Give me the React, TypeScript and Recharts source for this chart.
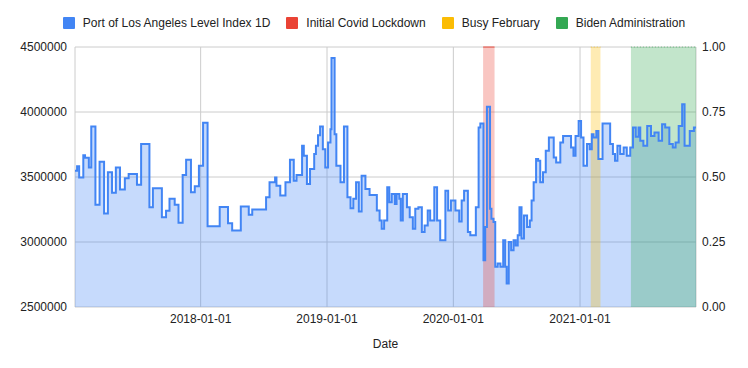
import React from 'react';
import { ComposedChart, Area, Line, XAxis, YAxis, CartesianGrid } from 'recharts';

const seriesName = 'Port of Los Angeles Level Index 1D';
const seriesColor = '#4285F4';

const portDates = [
  '2017-01-03','2017-01-09','2017-01-15','2017-01-27','2017-02-01','2017-02-12','2017-02-19','2017-03-03',
  '2017-03-15','2017-03-28','2017-04-08','2017-04-20','2017-05-01','2017-05-13','2017-05-27','2017-06-07',
  '2017-07-01','2017-07-13','2017-08-06','2017-08-16','2017-09-11','2017-09-23','2017-10-03','2017-10-18',
  '2017-10-29','2017-11-10','2017-11-20','2017-12-04','2017-12-15','2017-12-27','2018-01-08','2018-01-21',
  '2018-02-25','2018-03-21','2018-04-02','2018-04-27','2018-05-20','2018-05-30','2018-07-09','2018-07-19',
  '2018-08-04','2018-08-08','2018-08-19','2018-09-03','2018-09-16','2018-09-27','2018-10-05','2018-10-21',
  '2018-10-26','2018-11-04','2018-11-13','2018-11-25','2018-11-30','2018-12-06','2018-12-12','2018-12-20',
  '2018-12-27','2019-01-04','2019-01-11','2019-01-14','2019-01-23','2019-01-28','2019-02-09','2019-02-19',
  '2019-03-01','2019-03-10','2019-03-18','2019-03-26','2019-04-03','2019-04-11','2019-04-22','2019-05-04',
  '2019-05-25','2019-06-02','2019-06-08','2019-06-15','2019-06-24','2019-06-30','2019-07-07','2019-07-16',
  '2019-07-21','2019-07-29','2019-08-02','2019-08-08','2019-08-20','2019-08-28','2019-09-06','2019-09-13',
  '2019-09-22','2019-10-02','2019-10-10','2019-10-19','2019-10-26','2019-11-07','2019-11-15','2019-11-24',
  '2019-12-09','2019-12-17','2019-12-25','2020-01-07','2020-01-18','2020-01-25','2020-02-01','2020-02-12',
  '2020-02-19','2020-03-06','2020-03-14','2020-03-19','2020-03-28','2020-04-02','2020-04-07','2020-04-16',
  '2020-04-20','2020-04-26','2020-05-01','2020-05-08','2020-05-16','2020-05-24','2020-05-30','2020-06-03',
  '2020-06-09','2020-06-16','2020-06-23','2020-06-29','2020-07-05','2020-07-10','2020-07-16','2020-07-23',
  '2020-08-01','2020-08-09','2020-08-14','2020-08-20','2020-08-27','2020-09-02','2020-09-08','2020-09-16',
  '2020-09-24','2020-10-03','2020-10-17','2020-10-24','2020-11-05','2020-11-13','2020-12-06','2020-12-13',
  '2020-12-19','2020-12-28','2021-01-04','2021-01-11','2021-01-21','2021-01-29','2021-02-04','2021-02-09',
  '2021-02-17','2021-02-23','2021-03-07','2021-03-29','2021-04-06','2021-04-12','2021-04-19','2021-04-27',
  '2021-05-07','2021-05-16','2021-05-26','2021-06-03','2021-06-11','2021-06-19','2021-06-24','2021-07-03',
  '2021-07-14','2021-07-25','2021-08-04','2021-08-16','2021-08-26','2021-09-04','2021-09-16','2021-09-26',
  '2021-10-04','2021-10-13','2021-10-23','2021-10-30','2021-11-14','2021-11-26','2021-12-02',
];

const portValues = [
  3548000,3582000,3497000,3668000,3648000,3574000,3888000,3286000,
  3617000,3219000,3536000,3378000,3574000,3403000,3490000,3523000,
  3441000,3753000,3268000,3413000,3191000,3240000,3332000,3286000,
  3148000,3515000,3633000,3383000,3429000,3587000,3918000,3122000,
  3270000,3145000,3089000,3273000,3209000,3250000,3344000,3459000,
  3497000,3433000,3357000,3459000,3633000,3472000,3515000,3740000,
  3663000,3446000,3561000,3676000,3740000,3821000,3888000,3714000,
  3574000,3765000,3867000,4416000,3829000,3587000,3459000,3888000,
  3344000,3260000,3332000,3459000,3235000,3510000,3408000,3362000,
  3242000,3166000,3102000,3166000,3421000,3306000,3370000,3293000,
  3370000,3332000,3166000,3370000,3268000,3191000,3102000,3255000,
  3268000,3076000,3127000,3242000,3166000,3421000,3166000,3013000,
  3395000,3242000,3319000,3242000,3158000,3319000,3395000,3076000,
  3051000,3268000,3880000,3911000,2860000,3115000,4040000,3255000,
  3178000,3153000,2809000,2834000,2809000,3013000,2809000,2681000,
  3000000,2936000,3013000,2974000,3051000,3268000,3026000,3204000,
  3115000,3166000,3319000,3459000,3638000,3625000,3459000,3536000,
  3702000,3804000,3650000,3612000,3765000,3816000,3727000,3663000,
  3816000,3931000,3804000,3587000,3753000,3714000,3829000,3804000,
  3854000,3638000,3911000,3753000,3676000,3625000,3740000,3676000,
  3727000,3663000,3727000,3880000,3809000,3880000,3778000,3740000,
  3893000,3816000,3842000,3778000,3906000,3880000,3753000,3727000,
  3765000,3893000,4059000,3740000,3854000,3880000,3880000,
];

const bandKeys = ['covid', 'feb', 'biden'];
const bandNames = ['Initial Covid Lockdown', 'Busy February', 'Biden Administration'];
const bandColors = ['#EA4335', '#FBBC04', '#34A853'];
const bandStarts = ['2020-03-27', '2021-02-01', '2021-05-28'];
const bandEnds = ['2020-04-29', '2021-03-01', '2021-12-02'];
const bandLevels = [1, 1, 1];

const xTickDates = ['2018-01-01', '2019-01-01', '2020-01-01', '2021-01-01'];
const leftTicks = [2500000, 3000000, 3500000, 4000000, 4500000];
const rightTicks = [0, 0.25, 0.5, 0.75, 1];
const xAxisTitle = 'Date';

const toTime = (s: string) => Date.parse(s + 'T00:00:00Z');
const fmtDate = (t: number) => new Date(t).toISOString().slice(0, 10);

type Row = { t: number; [k: string]: number | undefined };

const rowMap = new Map<number, Row>();
const getRow = (t: number): Row => {
  let r = rowMap.get(t);
  if (!r) {
    r = { t };
    rowMap.set(t, r);
  }
  return r;
};
portDates.forEach((d, i) => {
  getRow(toTime(d)).port = portValues[i];
});
bandKeys.forEach((_, i) => {
  getRow(toTime(bandStarts[i]));
  getRow(toTime(bandEnds[i]));
});
const chartData: Row[] = Array.from(rowMap.values()).sort((a, b) => a.t - b.t);
chartData.forEach((r) => {
  bandKeys.forEach((k, i) => {
    if (r.t >= toTime(bandStarts[i]) && r.t <= toTime(bandEnds[i])) r[k] = bandLevels[i];
  });
});

const xDomain = [toTime(portDates[0]), toTime(portDates[portDates.length - 1])];
const xTicks = xTickDates.map(toTime);

const legendItems = [
  { name: seriesName, color: seriesColor },
  ...bandNames.map((n, i) => ({ name: n, color: bandColors[i] })),
];

const FONT = '"Liberation Sans", Arial, sans-serif';
const tickStyle = { fill: '#222', fontSize: 12, fontFamily: FONT };

export default function App() {
  return (
    <div style={{ position: 'relative', width: 748, height: 368, margin: -8, fontFamily: FONT, background: '#fff' }}>
      <ComposedChart
        width={748}
        height={368}
        data={chartData}
        margin={{ top: 47, right: 0, bottom: 0, left: 0 }}
      >
        <CartesianGrid stroke="#cccccc" />
        <XAxis
          dataKey="t"
          type="number"
          domain={xDomain}
          ticks={xTicks}
          tickFormatter={fmtDate}
          axisLine={false}
          tickLine={false}
          tickSize={5}
          tickMargin={2}
          height={61}
          tick={tickStyle}
          label={{ value: xAxisTitle, position: 'insideBottom', offset: 20, fill: '#222', fontSize: 12, fontFamily: FONT }}
        />
        <YAxis
          type="number"
          domain={[leftTicks[0], leftTicks[leftTicks.length - 1]]}
          ticks={leftTicks}
          width={75}
          axisLine={false}
          tickLine={false}
          tickSize={0}
          tickMargin={8}
          tick={tickStyle}
          interval={0}
        />
        <YAxis
          yAxisId="right"
          orientation="right"
          type="number"
          domain={[0, 1]}
          ticks={rightTicks}
          width={52}
          axisLine={false}
          tickLine={false}
          tickSize={0}
          tickMargin={6}
          tick={tickStyle}
          interval={0}
          tickFormatter={(v: number) => v.toFixed(2)}
        />
        <Area
          dataKey="port"
          name={seriesName}
          type="stepAfter"
          connectNulls
          fill={seriesColor}
          fillOpacity={0.3}
          stroke="none"
          dot={false}
          activeDot={false}
          isAnimationActive={false}
        />
        {bandKeys.map((k, i) => (
          <Area
            key={k}
            yAxisId="right"
            dataKey={k}
            name={bandNames[i]}
            type="linear"
            fill={bandColors[i]}
            fillOpacity={0.3}
            stroke={bandColors[i]}
            strokeOpacity={i === 0 ? 0.45 : 0.6}
            strokeWidth={i === 0 ? 2 : 1}
            strokeDasharray={i === 0 ? undefined : '1 2'}
            dot={false}
            activeDot={false}
            isAnimationActive={false}
          />
        ))}
        <Line
          dataKey="port"
          name={seriesName}
          type="stepAfter"
          connectNulls
          stroke={seriesColor}
          strokeWidth={2}
          dot={false}
          activeDot={false}
          isAnimationActive={false}
          legendType="none"
        />
      </ComposedChart>
      <div
        style={{
          position: 'absolute',
          top: 17,
          left: 0,
          width: 748,
          display: 'flex',
          justifyContent: 'center',
          fontSize: 12,
          lineHeight: '12px',
          color: '#222',
        }}
      >
        {legendItems.map((it, i) => (
          <div key={it.name} style={{ display: 'flex', alignItems: 'center', marginLeft: i ? 16 : 0 }}>
            <span style={{ display: 'inline-block', width: 12, height: 12, background: it.color, borderRadius: 1, marginRight: 8 }} />
            <span>{it.name}</span>
          </div>
        ))}
      </div>
    </div>
  );
}
